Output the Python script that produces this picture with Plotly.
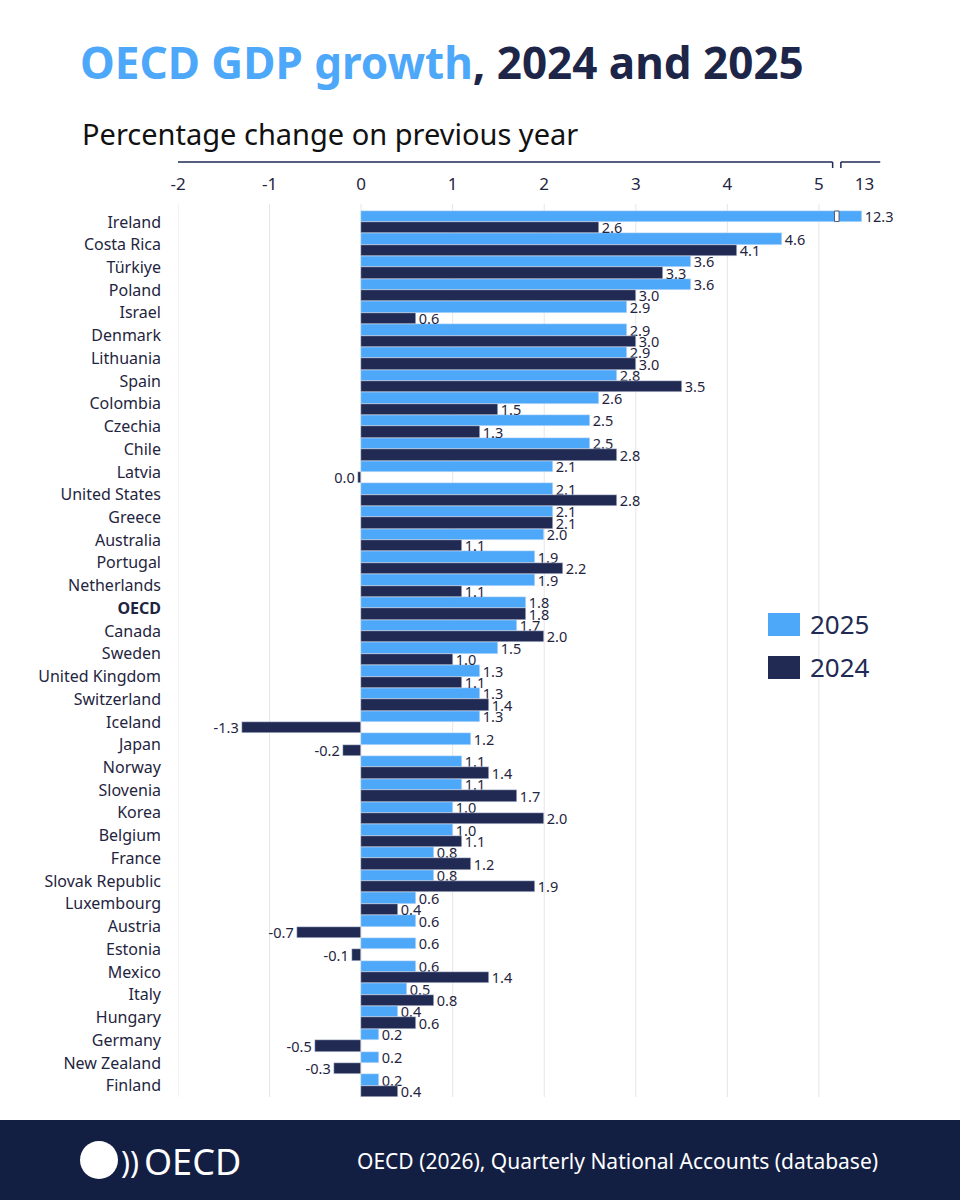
import plotly.graph_objects as go

countries = ["Ireland", "Costa Rica", "Türkiye", "Poland", "Israel", "Denmark", "Lithuania", "Spain",
             "Colombia", "Czechia", "Chile", "Latvia", "United States", "Greece", "Australia", "Portugal",
             "Netherlands", "OECD", "Canada", "Sweden", "United Kingdom", "Switzerland", "Iceland", "Japan",
             "Norway", "Slovenia", "Korea", "Belgium", "France", "Slovak Republic", "Luxembourg", "Austria",
             "Estonia", "Mexico", "Italy", "Hungary", "Germany", "New Zealand", "Finland"]
g2025 = [12.3, 4.6, 3.6, 3.6, 2.9, 2.9, 2.9, 2.8, 2.6, 2.5, 2.5, 2.1, 2.1, 2.1, 2.0, 1.9, 1.9, 1.8, 1.7,
         1.5, 1.3, 1.3, 1.3, 1.2, 1.1, 1.1, 1.0, 1.0, 0.8, 0.8, 0.6, 0.6, 0.6, 0.6, 0.5, 0.4, 0.2, 0.2, 0.2]
g2024 = [2.6, 4.1, 3.3, 3.0, 0.6, 3.0, 3.0, 3.5, 1.5, 1.3, 2.8, -0.03, 2.8, 2.1, 1.1, 2.2, 1.1, 1.8, 2.0,
         1.0, 1.1, 1.4, -1.3, -0.2, 1.4, 1.7, 2.0, 1.1, 1.2, 1.9, 0.4, -0.7, -0.1, 1.4, 0.8, 0.6, -0.5, -0.3, 0.4]
main_ticks = [-2, -1, 0, 1, 2, 3, 4, 5]
break_tick = 13

LIGHT = "#4DA8FA"
DARK = "#212A53"
TXT = "#1F2540"
FOOT = "#131E43"
FONT = "Noto Sans"

# broken-axis transform (values above the break are compressed)
BREAK_END = 5.15
SEG2_START = 5.24
SEG2_LO = 7.5
SEG2_SCALE = 0.047


def brk(v):
    return v if v <= BREAK_END else SEG2_START + (v - SEG2_LO) * SEG2_SCALE


def lab(v):
    s = f"{v:.1f}"
    return "0.0" if s == "-0.0" else s


x25 = [brk(v) for v in g2025]
x24 = [brk(v) for v in g2024]

# layout geometry in pixels
W, H = 960, 1200
L, R_ = 178, 883
T, B = 206, 1097
PW, PH = R_ - L, B - T


def px(p):
    return (p - L) / PW


def py(p):
    return (B - p) / PH


fig = go.Figure()
fig.add_trace(go.Bar(y=countries, x=x25, orientation="h", name="2025", marker_color=LIGHT,
                     text=[lab(v) for v in g2025], textposition="outside", cliponaxis=False,
                     constraintext="none", textfont=dict(size=14.5, color=TXT, family=FONT),
                     showlegend=False))
fig.add_trace(go.Bar(y=countries, x=x24, orientation="h", name="2024", marker_color=DARK,
                     text=[lab(v) for v in g2024], textposition="outside", cliponaxis=False,
                     constraintext="none", textfont=dict(size=14.5, color=TXT, family=FONT),
                     showlegend=False))

ticktext = ["<b>OECD</b>" if c == "OECD" else c for c in countries]

fig.update_layout(
    width=W, height=H, margin=dict(l=L, r=W - R_, t=T, b=H - B),
    paper_bgcolor="white", plot_bgcolor="white",
    barmode="group", bargap=0.0, bargroupgap=0.0,
    font=dict(family=FONT, color=TXT),
    xaxis=dict(range=[-2, 5.7], side="top", tickvals=main_ticks + [brk(break_tick)],
               ticktext=[str(t) for t in main_ticks] + [str(break_tick)],
               showgrid=False, zeroline=False, showline=False, ticks="",
               ticklabelstandoff=12, tickfont=dict(size=17, color=TXT)),
    yaxis=dict(range=[38.5, -0.7], tickvals=countries, ticktext=ticktext, showgrid=False,
               zeroline=False, showline=False, ticks="", ticklabelstandoff=16,
               tickfont=dict(size=16, color=TXT)),
)

shapes = []
for t in main_ticks:
    shapes.append(dict(type="line", xref="x", yref="paper", x0=t, x1=t, y0=0, y1=py(204),
                       line=dict(color="#E6E6E6", width=1), layer="below"))
# axis line with break
yl = py(162)
yt = py(168)
shapes += [
    dict(type="line", xref="x", yref="paper", x0=-2, x1=BREAK_END, y0=yl, y1=yl, line=dict(color=DARK, width=1.5)),
    dict(type="line", xref="x", yref="paper", x0=BREAK_END, x1=BREAK_END, y0=yl, y1=yt, line=dict(color=DARK, width=1.5)),
    dict(type="line", xref="x", yref="paper", x0=SEG2_START, x1=5.67, y0=yl, y1=yl, line=dict(color=DARK, width=1.5)),
    dict(type="line", xref="x", yref="paper", x0=SEG2_START, x1=SEG2_START, y0=yl, y1=yt, line=dict(color=DARK, width=1.5)),
]
# break marker on Ireland bar
shapes.append(dict(type="rect", xref="x", yref="y", x0=BREAK_END + 0.02, x1=SEG2_START - 0.02,
                   y0=-0.48, y1=-0.02, fillcolor="white", line=dict(color="#555A70", width=1)))
# legend boxes
shapes.append(dict(type="rect", xref="paper", yref="paper", x0=px(768), x1=px(800), y0=py(613), y1=py(636),
                   fillcolor=LIGHT, line=dict(width=0)))
shapes.append(dict(type="rect", xref="paper", yref="paper", x0=px(768), x1=px(800), y0=py(656), y1=py(679),
                   fillcolor=DARK, line=dict(width=0)))
# footer band
shapes.append(dict(type="rect", xref="paper", yref="paper", x0=px(0), x1=px(960), y0=py(1120), y1=py(1200),
                   fillcolor=FOOT, line=dict(width=0)))
# logo globe
shapes.append(dict(type="circle", xref="paper", yref="paper", x0=px(80), x1=px(118), y0=py(1141), y1=py(1179),
                   fillcolor="white", line=dict(width=0)))
fig.update_layout(shapes=shapes)

ann = [
    dict(text="<b><span style='color:#4DA8FA'>OECD GDP growth</span>, 2024 and 2025</b>",
         x=px(78), y=py(62), xref="paper", yref="paper", xanchor="left", yanchor="middle",
         showarrow=False, font=dict(size=44, color="#1D2548", family=FONT)),
    dict(text="Percentage change on previous year", x=px(80), y=py(133), xref="paper", yref="paper",
         xanchor="left", yanchor="middle", showarrow=False, font=dict(size=29, color="#111", family=FONT)),
    dict(text="2025", x=px(808), y=py(624), xref="paper", yref="paper", xanchor="left", yanchor="middle",
         showarrow=False, font=dict(size=26, color=DARK, family=FONT)),
    dict(text="2024", x=px(808), y=py(667), xref="paper", yref="paper", xanchor="left", yanchor="middle",
         showarrow=False, font=dict(size=26, color=DARK, family=FONT)),
    dict(text="OECD (2026), Quarterly National Accounts (database)", x=px(880), y=py(1161), xref="paper",
         yref="paper", xanchor="right", yanchor="middle", showarrow=False,
         font=dict(size=21, color="white", family=FONT)),
    dict(text="))", x=px(119), y=py(1161), xref="paper", yref="paper", xanchor="left", yanchor="middle",
         showarrow=False, font=dict(size=30, color="white", family=FONT)),
    dict(text="OECD", x=px(142), y=py(1161), xref="paper", yref="paper", xanchor="left", yanchor="middle",
         showarrow=False, font=dict(size=36, color="white", family=FONT)),
]
fig.update_layout(annotations=ann)

fig.write_html("out.html")
